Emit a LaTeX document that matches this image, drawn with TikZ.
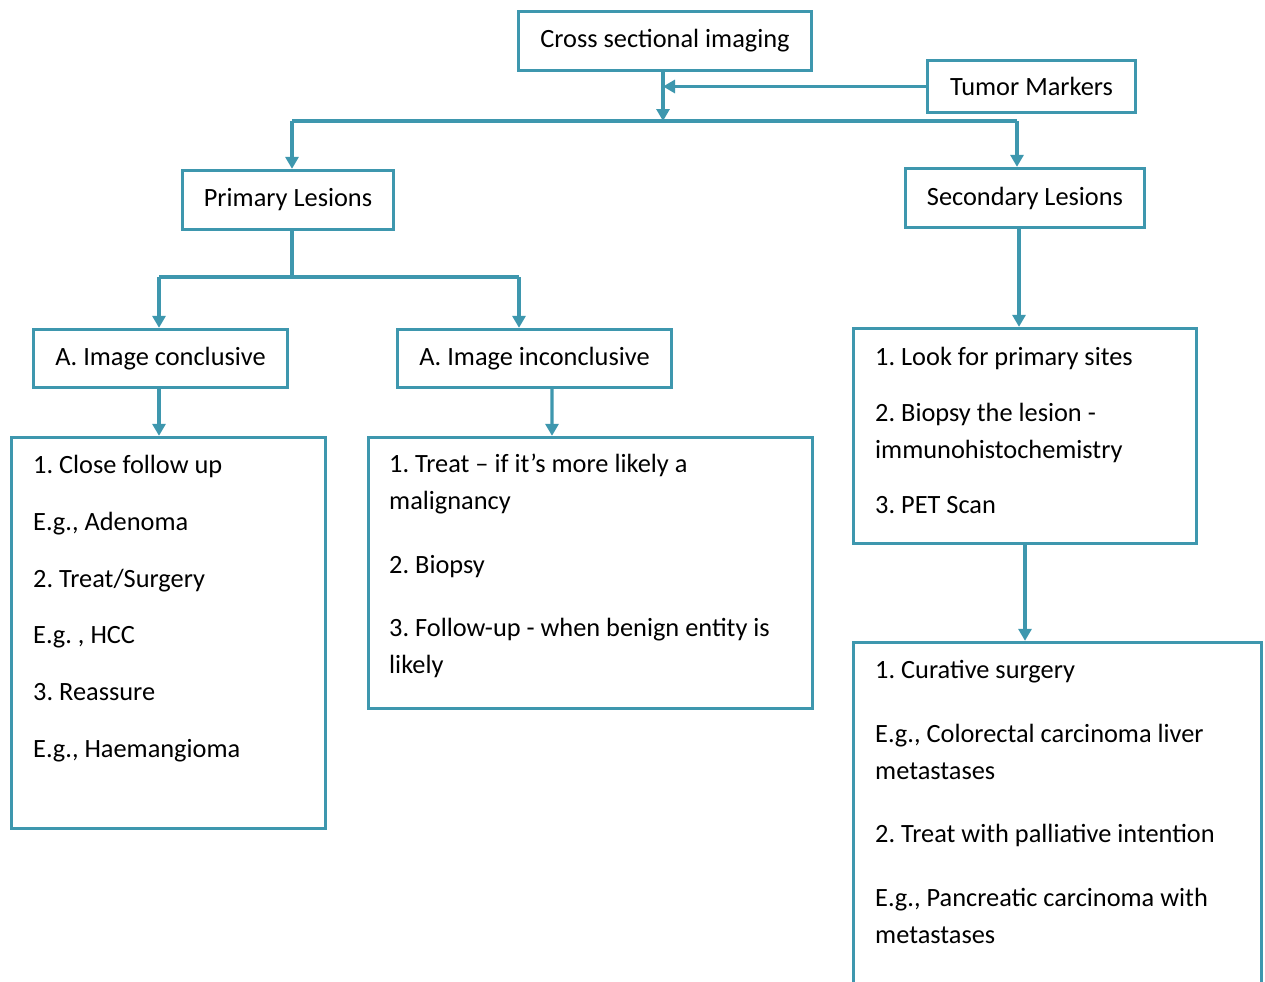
\documentclass[tikz,border=0pt]{standalone}
\usepackage{fontspec}
\setmainfont{Carlito}
\frenchspacing
\usetikzlibrary{arrows.meta}
\definecolor{flowteal}{RGB}{62,151,174}
\def\pxu{0.02cm}
\tikzset{
	box/.style={draw=flowteal, line width=3.3*\pxu, fill=white, inner sep=0pt, font=\fontsize{15}{21}\selectfont},
	txt/.style={anchor=north west, align=left, inner sep=0pt, font=\fontsize{15}{21}\selectfont},
	link/.style={draw=flowteal, line width=3.3*\pxu},
	arr/.style={link, -{Triangle[width=13*\pxu, length=12*\pxu]}}
}

\begin{document}
\begin{tikzpicture}[x=\pxu, y=-\pxu]
			%%%%% START %%%%%
			\clip (0, 0) rectangle (1265, 981);
			\useasboundingbox (0, 0) rectangle (1265, 981);
			
			\node[box, minimum width=293*\pxu, minimum height=59*\pxu] (cross) at (665, 41) {Cross sectional imaging};
			\node[box, minimum width=208*\pxu, minimum height=52*\pxu] (tumor) at (1031.5, 86.5) {Tumor Markers};
			
			\node[box, minimum width=211*\pxu, minimum height=59*\pxu] (prim) at (288, 200) {Primary Lesions};
			\node[box, minimum width=239*\pxu, minimum height=59*\pxu] (sec) at (1025, 198) {Secondary Lesions};
			
			\node[box, minimum width=254*\pxu, minimum height=58*\pxu] (concl) at (160.5, 358.5) {A. Image conclusive};
			\node[box, minimum width=274*\pxu, minimum height=58*\pxu] (inconcl) at (534.5, 358.5) {A. Image inconclusive};
			
			\node[box, minimum width=314*\pxu, minimum height=391*\pxu] (follow) at (168.5, 633) {};
			\node[txt] (followtxt) at ([shift={(23, 11.5)}]follow.north west) {\strut 1. Close follow up\\[11.3pt]
				E.g., Adenoma\\[11.3pt]
				2. Treat/Surgery\\[11.3pt]
				E.g. , HCC\\[11.3pt]
				3. Reassure\\[11.3pt]
				E.g., Haemangioma};
			
			\node[box, minimum width=444*\pxu, minimum height=271*\pxu] (treat) at (590.5, 573) {};
			\node[txt] (treattxt) at ([shift={(22, 10.5)}]treat.north west) {\strut 1. Treat – if it’s more likely a\\
				malignancy\\[15.3pt]
				2. Biopsy\\[15.3pt]
				3. Follow-up - when benign entity is\\
				likely};
			
			\node[box, minimum width=343*\pxu, minimum height=215*\pxu] (look) at (1025, 436) {};
			\node[txt] (looktxt) at ([shift={(23, 12.5)}]look.north west) {\strut 1. Look for primary sites\\[10.7pt]
				2. Biopsy the lesion -\\
				immunohistochemistry\\[10.7pt]
				3. PET Scan};
			
			\node[box, minimum width=408*\pxu, minimum height=457*\pxu] (cure) at (1057.5, 871) {};
			\node[txt] (curetxt) at ([shift={(23, 11.5)}]cure.north west) {\strut 1. Curative surgery\\[15.3pt]
				E.g., Colorectal carcinoma liver\\
				metastases\\[15.3pt]
				2. Treat with palliative intention\\[15.3pt]
				E.g., Pancreatic carcinoma with\\
				metastases};
			
			\coordinate (split) at (663, 121);
			\coordinate (splitL) at (292, 121);
			\coordinate (splitR) at (1017, 121);
			\coordinate (fork) at (292, 277);
			\coordinate (forkL) at (159, 277);
			\coordinate (forkR) at (519, 277);
			
			\draw[arr] (cross.south -| split) -- (split);
			\draw[arr] (tumor.west) -- (tumor.west -| split);
			\draw[link] (splitL) -- (splitR);
			\draw[arr] (splitL) -- (prim.north -| splitL);
			\draw[arr] (splitR) -- (sec.north -| splitR);
			
			\draw[link] (prim.south -| fork) -- (fork);
			\draw[link] (forkL) -- (forkR);
			\draw[arr] (forkL) -- (concl.north -| forkL);
			\draw[arr] (forkR) -- (inconcl.north -| forkR);
			
			\draw[arr] (concl.south -| forkL) -- (follow.north -| forkL);
			\draw[arr] ([xshift=17.5*\pxu]inconcl.south) -- ([xshift=-38.5*\pxu]treat.north);
			\draw[arr] ([xshift=-6*\pxu]sec.south) -- ([xshift=-6*\pxu]look.north);
			\draw[arr] (look.south) -- (cure.north -| look.south);
			%%%%% END %%%%%
		\end{tikzpicture}
\end{document}
